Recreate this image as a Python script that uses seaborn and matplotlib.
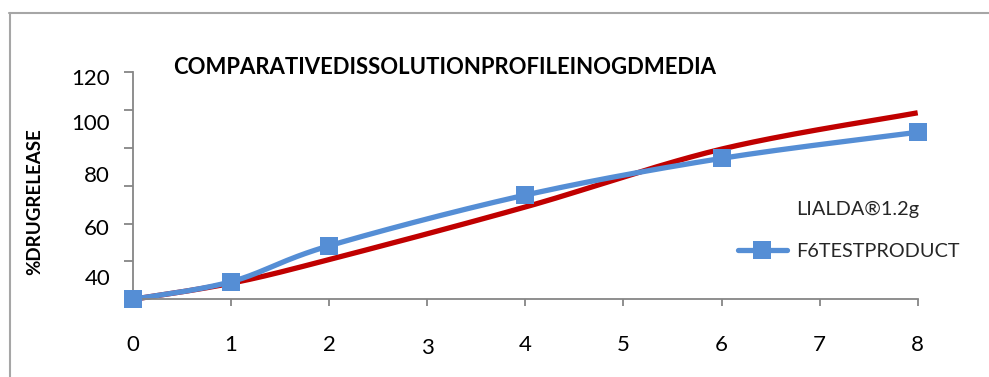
import numpy as np
import pandas as pd
import matplotlib
matplotlib.use("Agg")
import matplotlib.pyplot as plt
from matplotlib.lines import Line2D
import seaborn as sns

# Dissolution readings (% drug release) at each sampling time (h)
time_points = [0, 1, 2, 4, 6, 8]
lialda_release = [0, 8.5, 21, 48.8, 79.4, 98.6]
f6_release = [0, 9.3, 28.3, 55.1, 74.5, 88.3]

series_names = ["LIALDA®1.2g", "F6TESTPRODUCT"]
x_tick_labels = ["0", "1", "2", "3", "4", "5", "6", "7", "8"]
y_tick_labels = ["120", "100", "80", "60", "40"]
y_label_positions = [117.7, 93.9, 66.2, 38.4, 11.8]

title_text = "COMPARATIVEDISSOLUTIONPROFILEINOGDMEDIA"
y_axis_text = "%DRUGRELEASE"

RED = "#C00000"
BLUE = "#558ED5"
GREY = "#868686"
FONT = "Lato"


def smooth_curve(xs, ys, steps=40):
    """Bezier smoothing through the points (spreadsheet-style smoothed line)."""
    pts = np.column_stack([xs, ys]).astype(float)
    n = len(pts)
    out = [pts[0]]
    t = np.linspace(0, 1, steps)[1:, None]
    for i in range(n - 1):
        p0 = pts[max(i - 1, 0)]
        p1 = pts[i]
        p2 = pts[i + 1]
        p3 = pts[min(i + 2, n - 1)]
        c1 = p1 + (p2 - p0) / 6.0
        c2 = p2 - (p3 - p1) / 6.0
        seg = ((1 - t) ** 3) * p1 + 3 * ((1 - t) ** 2) * t * c1 \
            + 3 * (1 - t) * t ** 2 * c2 + t ** 3 * p2
        out.extend(seg)
    out = np.array(out)
    return out[:, 0], out[:, 1]


sns.set_theme(style="white")
plt.rcParams["font.family"] = [FONT, "DejaVu Sans"]

W, H = 989, 377
fig = plt.figure(figsize=(W / 100, H / 100), dpi=100)
ax = fig.add_axes([133 / W, 1 - 299.3 / H, (917.7 - 133) / W, (299.3 - 72.3) / H])

rx, ry = smooth_curve(time_points, lialda_release)
bx, by = smooth_curve(time_points, f6_release)
curves = pd.DataFrame({"time": np.concatenate([rx, bx]),
                       "release": np.concatenate([ry, by]),
                       "product": [series_names[0]] * len(rx) + [series_names[1]] * len(bx)})
points = pd.DataFrame({"time": time_points, "release": f6_release})

sns.lineplot(data=curves[curves["product"] == series_names[0]], x="time", y="release",
             color=RED, linewidth=3.8, ax=ax, legend=False, sort=False,
             solid_capstyle="butt")
sns.lineplot(data=curves[curves["product"] == series_names[1]], x="time", y="release",
             color=BLUE, linewidth=3.8, ax=ax, legend=False, sort=False,
             solid_capstyle="butt")
sns.scatterplot(data=points, x="time", y="release", marker="s", s=170,
                color=BLUE, edgecolor=BLUE, linewidth=0, ax=ax, legend=False,
                zorder=5, clip_on=False)
for line in ax.lines:
    line.set_clip_on(False)

ax.set_xlim(0, 8)
ax.set_ylim(0, 120)

# x axis
ax.set_xticks(range(len(x_tick_labels)))
ax.set_xticklabels(x_tick_labels)
ax.tick_params(axis="x", which="major", direction="out", length=5, width=1.3,
               color=GREY, pad=20.5, labelsize=16, labelcolor="black", bottom=True)
for lbl in ax.get_xticklabels():
    if lbl.get_text() == "3":
        lbl.set_y(-0.013)

# y axis: tick marks on the 20-step grid, labels as drawn
ax.set_yticks(np.arange(0, 121, 20), minor=True)
ax.set_yticks(y_label_positions)
ax.set_yticklabels(y_tick_labels)
ax.tick_params(axis="y", which="minor", direction="out", length=6.5, width=1.3,
               color=GREY, left=True)
ax.tick_params(axis="y", which="major", length=0, pad=16.5, labelsize=16,
               labelcolor="black", left=True)

for side in ["top", "right"]:
    ax.spines[side].set_visible(False)
for side in ["left", "bottom"]:
    ax.spines[side].set_color(GREY)
    ax.spines[side].set_linewidth(1.3)

ax.set_xlabel("")
ax.set_ylabel(y_axis_text, fontsize=13.5, fontweight="bold", color="black")
ax.yaxis.set_label_coords(-0.1147, 0.43)

fig.text(173 / W, 1 - 68 / H, title_text, fontsize=15.9, fontweight="bold",
         ha="left", va="center", color="black")

handles = [Line2D([], [], color="none"),
           Line2D([], [], color=BLUE, linewidth=3.8, marker="s", markersize=13,
                  markeredgewidth=0)]
leg = ax.legend(handles, series_names, loc="center left",
                bbox_to_anchor=(738 / W, 1 - 230.5 / H), bbox_transform=fig.transFigure,
                frameon=False, fontsize=14.3, handlelength=2.45, handletextpad=0.5,
                labelspacing=1.3, borderpad=0, borderaxespad=0)

# outer chart frame
fig.add_artist(Line2D([9 / W, 1], [1 - 13 / H, 1 - 13 / H], transform=fig.transFigure,
                      color="#A6A6A6", linewidth=1.5))
fig.add_artist(Line2D([9.5 / W, 9.5 / W], [0, 1 - 13 / H], transform=fig.transFigure,
                      color="#A6A6A6", linewidth=1.5))

fig.savefig("out.png", dpi=100, facecolor="white")
